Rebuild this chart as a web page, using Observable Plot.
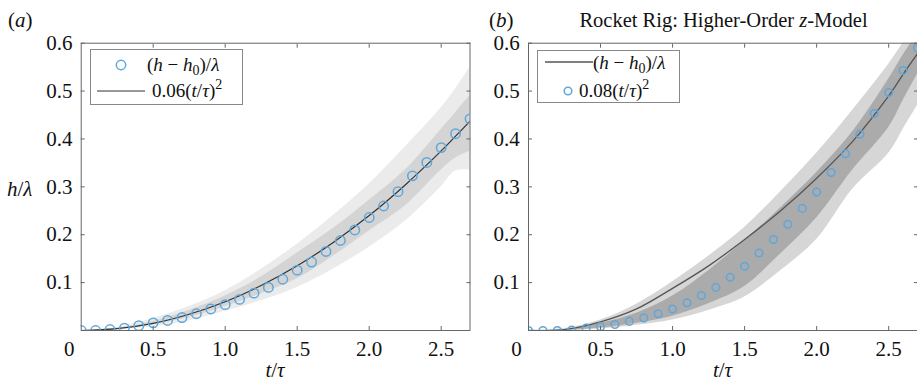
<!DOCTYPE html>
<html><head><meta charset="utf-8">
<script src="https://cdn.jsdelivr.net/npm/d3@7"></script>
<script src="https://cdn.jsdelivr.net/npm/@observablehq/plot@0.6"></script>
<style>
body{margin:0;background:#fff;}
#wrap{position:relative;width:917px;height:383px;overflow:hidden;font-family:"Liberation Serif","Times New Roman",serif;}
#wrap > svg{position:absolute;top:0;}
</style></head><body><div id="wrap"></div>
<script>
// ---------- data ----------
const tPts = [0,0.1,0.2,0.3,0.4,0.5,0.6,0.7,0.8,0.9,1.0,1.1,1.2,1.3,1.4,1.5,1.6,1.7,1.8,1.9,2.0,2.1,2.2,2.3,2.4,2.5,2.6,2.7];
const ptsA = [0,0,0.002,0.005,0.010,0.016,0.021,0.027,0.035,0.045,0.054,0.065,0.078,0.090,0.107,0.126,0.143,0.165,0.188,0.210,0.236,0.260,0.290,0.323,0.351,0.382,0.411,0.442];
const ptsB = [0,0,0,0.001,0.005,0.008,0.0125,0.019,0.026,0.035,0.045,0.058,0.073,0.090,0.111,0.134,0.162,0.190,0.222,0.255,0.289,0.330,0.369,0.410,0.453,0.497,0.543,0.590];

const tGrid = [0,0.25,0.5,0.75,1.0,1.25,1.5,1.75,2.0,2.25,2.5,2.6,2.7];
const lineA = [0,0.004,0.015,0.034,0.060,0.094,0.135,0.184,0.240,0.304,0.375,0.406,0.437];
const lineB = [0,0.002,0.018,0.045,0.088,0.135,0.190,0.250,0.318,0.395,0.490,0.535,0.578];

const outerLoA = [0,0.002,0.008,0.020,0.040,0.062,0.090,0.128,0.174,0.228,0.300,0.333,0.335];
const outerHiA = [0,0.006,0.025,0.050,0.083,0.128,0.180,0.240,0.306,0.383,0.465,0.505,0.550];
const innerLoA = [0,0.003,0.012,0.027,0.050,0.077,0.108,0.155,0.208,0.260,0.335,0.360,0.375];
const innerHiA = [0,0.005,0.019,0.042,0.072,0.112,0.162,0.213,0.272,0.335,0.420,0.455,0.490];

const outerLoB = [0,0,0.003,0.011,0.022,0.042,0.070,0.125,0.190,0.295,0.370,0.420,0.470];
const outerHiB = [0,0.004,0.022,0.055,0.102,0.155,0.215,0.290,0.370,0.460,0.556,0.600,0.640];
const innerLoB = [0,0,0.005,0.015,0.030,0.056,0.092,0.160,0.235,0.335,0.424,0.480,0.535];
const innerHiB = [0,0.002,0.015,0.036,0.072,0.125,0.188,0.256,0.330,0.415,0.525,0.575,0.620];

const xTicks = [0.5,1.0,1.5,2.0,2.5];
const yTicks = [0.1,0.2,0.3,0.4,0.5,0.6];

// ---------- helpers ----------
const zipPts = (t, v) => t.map((d, i) => ({t: d, v: v[i]}));
const zipBand = (t, olo, ohi, ilo, ihi) => t.map((d, i) => ({t: d, olo: olo[i], ohi: ohi[i], ilo: ilo[i], ihi: ihi[i]}));
const fmt = d3.format(".1f");
const FONT = "'Liberation Serif', 'Times New Roman', serif";

function panel({band, pts, line, r, lineColor, lineWidth, fills, width, marginLeft, marginRight}) {
  return Plot.plot({
    width, height: 383,
    marginTop: 42.7, marginBottom: 53, marginLeft, marginRight,
    x: {domain: [0, 2.7]},
    y: {domain: [0, 0.6]},
    style: {fontFamily: FONT, fontSize: "21px", color: "#111", background: "transparent"},
    marks: [
      Plot.areaY(band, {x: "t", y1: "olo", y2: "ohi", fill: fills[0], curve: "catmull-rom", clip: true}),
      Plot.areaY(band, {x: "t", y1: "ilo", y2: "ihi", fill: fills[1], curve: "catmull-rom", clip: true}),
      Plot.line(line, {x: "t", y: "v", stroke: lineColor, strokeWidth: lineWidth, curve: "catmull-rom", clip: true}),
      Plot.dot(pts, {x: "t", y: "v", r, stroke: "#5ea7dc", strokeWidth: 1.5, fill: "none", clip: true}),
      Plot.frame({stroke: "#666"}),
      Plot.axisX({anchor: "bottom", ticks: xTicks, tickSize: -4, tickPadding: 15, tickFormat: fmt, label: null, stroke: "#666", fontFamily: FONT}),
      Plot.axisX({anchor: "top", ticks: xTicks, tickSize: -4, tickFormat: () => "", label: null, stroke: "#666"}),
      Plot.axisY({anchor: "left", ticks: yTicks, tickSize: -4, tickPadding: 12.7, tickFormat: fmt, label: null, stroke: "#666", fontFamily: FONT}),
      Plot.axisY({anchor: "right", ticks: yTicks, tickSize: -4, tickFormat: () => "", label: null, stroke: "#666"}),
      Plot.text(["0"], {x: [0], y: [0], text: d => d, dx: -12, dy: 11, lineAnchor: "top", fill: "#111", fontFamily: FONT})
    ]
  });
}

const wrap = document.getElementById("wrap");

const svgA = panel({
  band: zipBand(tGrid, outerLoA, outerHiA, innerLoA, innerHiA),
  pts: zipPts(tPts, ptsA), line: zipPts(tGrid, lineA), r: 4.7,
  lineColor: "#333", lineWidth: 1.2, fills: ["#ebebeb", "#d4d4d4"],
  width: 475, marginLeft: 80.7, marginRight: 5.5
});
svgA.style.left = "0px";
wrap.appendChild(svgA);

const svgB = panel({
  band: zipBand(tGrid, outerLoB, outerHiB, innerLoB, innerHiB),
  pts: zipPts(tPts, ptsB), line: zipPts(tGrid, lineB), r: 3.8,
  lineColor: "#555", lineWidth: 1.3, fills: ["#d6d6d6", "#ababab"],
  width: 457, marginLeft: 68, marginRight: 0
});
svgB.style.left = "460px";
wrap.appendChild(svgB);

// ---------- annotation overlay ----------
const ov = d3.select(wrap).append("svg")
  .attr("width", 917).attr("height", 383)
  .style("left", "0px")
  .attr("font-family", FONT)
  .attr("fill", "#111");

function rich(x, y, parts, size, anchor = "start") {
  const t = ov.append("text").attr("x", x).attr("y", y).attr("font-size", size).attr("text-anchor", anchor);
  for (const p of parts) {
    const s = t.append("tspan").text(p.s);
    if (p.i) s.attr("font-style", "italic");
    if (p.dy) s.attr("dy", p.dy);
    if (p.fs) s.attr("font-size", p.fs);
  }
  return t;
}

rich(8, 27, [{s: "("}, {s: "a", i: 1}, {s: ")"}], 21);
rich(489, 27, [{s: "("}, {s: "b", i: 1}, {s: ")"}], 21);
rich(723.5, 27, [{s: "Rocket Rig: Higher-Order "}, {s: "z", i: 1}, {s: "-Model"}], 20.5, "middle");
rich(7, 196, [{s: "h", i: 1}, {s: "/"}, {s: "λ", i: 1}], 21);
rich(275, 377, [{s: "t", i: 1}, {s: "/"}, {s: "τ", i: 1}], 21, "middle");
rich(722.5, 377, [{s: "t", i: 1}, {s: "/"}, {s: "τ", i: 1}], 21, "middle");

const hLabel = [{s: "("}, {s: "h", i: 1}, {s: " − "}, {s: "h", i: 1}, {s: "0", dy: 4, fs: 14}, {s: ")/", dy: -4}, {s: "λ", i: 1}];
const fitLabel = c => [{s: c + "("}, {s: "t", i: 1}, {s: "/"}, {s: "τ", i: 1}, {s: ")"}, {s: "2", dy: -8, fs: 14}];

// legend (a)
ov.append("rect").attr("x", 90.5).attr("y", 49.5).attr("width", 152).attr("height", 55).attr("fill", "#fff").attr("stroke", "#888");
ov.append("circle").attr("cx", 121).attr("cy", 65).attr("r", 4.7).attr("fill", "none").attr("stroke", "#5ea7dc").attr("stroke-width", 1.5);
rich(147, 71, hLabel, 19);
ov.append("line").attr("x1", 97).attr("x2", 145).attr("y1", 91).attr("y2", 91).attr("stroke", "#333").attr("stroke-width", 1.2);
rich(152, 97, fitLabel("0.06"), 19);

// legend (b)
ov.append("rect").attr("x", 537.5).attr("y", 50.5).attr("width", 142).attr("height", 52).attr("fill", "#fff").attr("stroke", "#888");
ov.append("line").attr("x1", 545).attr("x2", 593).attr("y1", 62).attr("y2", 62).attr("stroke", "#555").attr("stroke-width", 1.3);
rich(593, 69, hLabel, 19);
ov.append("circle").attr("cx", 568).attr("cy", 91).attr("r", 3.8).attr("fill", "none").attr("stroke", "#5ea7dc").attr("stroke-width", 1.5);
rich(579, 97, fitLabel("0.08"), 19);
</script></body></html>
